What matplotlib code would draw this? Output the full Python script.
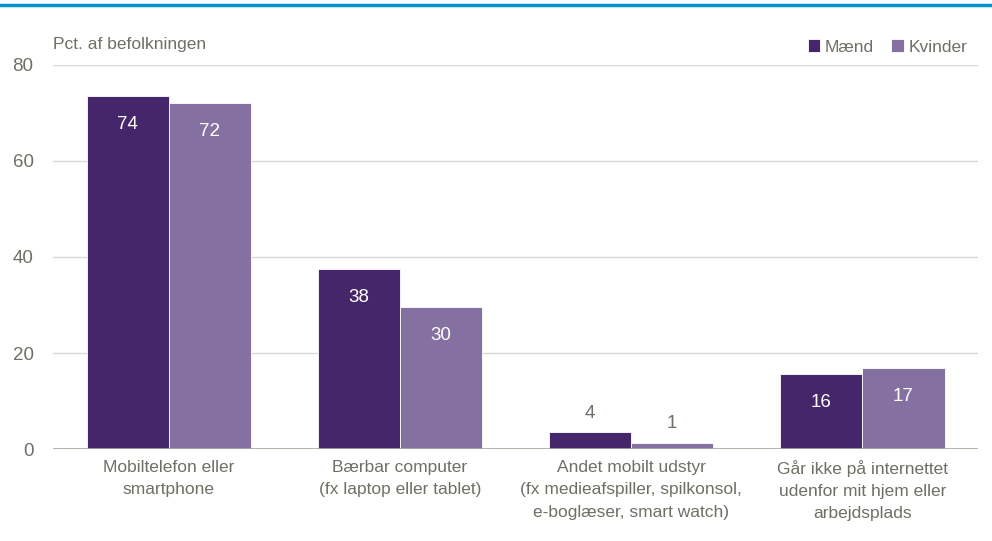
import numpy as np
import matplotlib.pyplot as plt
from matplotlib import font_manager as fm

names = {f.name for f in fm.fontManager.ttflist}
fam = ['Liberation Sans Narrow', 'DejaVu Sans'] if 'Liberation Sans Narrow' in names else ['Liberation Sans', 'DejaVu Sans']
plt.rcParams['font.family'] = fam

categories = ['Mobiltelefon eller\nsmartphone',
              'Bærbar computer\n(fx laptop eller tablet)',
              'Andet mobilt udstyr\n(fx medieafspiller, spilkonsol,\ne-boglæser, smart watch)',
              'Går ikke på internettet\nudenfor mit hjem eller\narbejdsplads']
maend = [73.5, 37.5, 3.5, 15.6]
kvinder = [72.1, 29.6, 1.3, 16.9]
maend_lbl = ['74', '38', '4', '16']
kvinder_lbl = ['72', '30', '1', '17']

c_m = '#46266A'
c_k = '#8571A1'
grey = '#6F6F66'

fig = plt.figure(figsize=(9.92, 5.41), dpi=100)
ax = fig.add_axes([0.0534, 0.170, 0.9326, 0.710])
fig.add_artist(plt.Line2D([0, 1], [0.991, 0.991], color='#0091D0', lw=2.5, transform=fig.transFigure))

x = np.arange(len(categories))
w = 0.355
b1 = ax.bar(x - w/2, maend, w, color=c_m, edgecolor='white', linewidth=0.6, label='Mænd')
b2 = ax.bar(x + w/2, kvinder, w, color=c_k, edgecolor='white', linewidth=0.6, label='Kvinder')

for bars, lbls in ((b1, maend_lbl), (b2, kvinder_lbl)):
    for r, t in zip(bars, lbls):
        h = r.get_height()
        cx = r.get_x() + r.get_width()/2
        if h > 10:
            ax.text(cx, h - 6.0, t, ha='center', va='center', color='white', fontsize=13.5)
        else:
            ax.text(cx, h + 4.0, t, ha='center', va='center', color=grey, fontsize=13.5)

ax.set_xlim(-0.5, 3.5)
ax.set_ylim(0, 80)
ax.set_yticks([0, 20, 40, 60, 80])
ax.set_xticks(x)
ax.set_xticklabels(categories, fontsize=12.5, color=grey, linespacing=1.6)
ax.tick_params(axis='x', length=0, pad=8)
ax.tick_params(axis='y', length=0, pad=14, labelsize=13.5, labelcolor=grey)
for s in ax.spines.values():
    s.set_visible(False)
ax.grid(axis='y', color='#D8D8D2', lw=1)
ax.axhline(0, color='#A8A89E', lw=1.2)
ax.set_axisbelow(True)

ax.text(0.0, 84.3, 'Pct. af befolkningen', fontsize=12.5, color=grey, ha='left', va='center',
        transform=ax.get_yaxis_transform())

leg = ax.legend(loc='lower right', bbox_to_anchor=(1.0, 1.0), ncol=2, frameon=False,
                fontsize=12.5, handlelength=0.7, handleheight=0.7, handletextpad=0.3,
                columnspacing=1.0, borderaxespad=0.4, borderpad=0.2)
for t in leg.get_texts():
    t.set_color(grey)

fig.savefig('out.png', dpi=100)
